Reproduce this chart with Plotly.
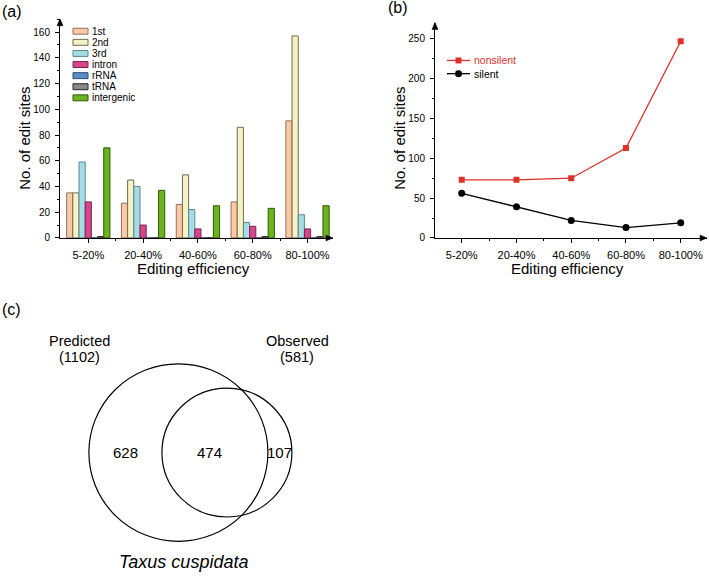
import math
import plotly.graph_objects as go

# ---------------- data ----------------
categories = ["5-20%", "20-40%", "40-60%", "60-80%", "80-100%"]

site_1st = [35, 27, 26, 28, 91]
site_2nd = [35, 45, 49, 86, 157]
site_3rd = [59, 40, 22, 12, 18]
site_intron = [28, 10, 7, 9, 7]
site_rrna = [0, 0, 0, 0, 0]
site_trna = [1, 0, 0, 1, 1]
site_intergenic = [70, 37, 25, 23, 25]

bar_names = ["1st", "2nd", "3rd", "intron", "rRNA", "tRNA", "intergenic"]
bar_values = [site_1st, site_2nd, site_3rd, site_intron, site_rrna, site_trna, site_intergenic]
bar_fill = ["#FDC9A2", "#F7F2C6", "#A6DCE6", "#D8458C", "#5B8CC6", "#8A8A8A", "#6BB41E"]
bar_edge = ["#8F7262", "#6F6B52", "#5C8890", "#7A2450", "#2F4E73", "#222222", "#2E5A0A"]

nonsilent = [73, 73, 75, 113, 247]
silent = [56, 39, 22, 13, 19]

venn_predicted = 1102
venn_observed = 581
venn_overlap = 474
venn_only_pred = venn_predicted - venn_overlap
venn_only_obs = venn_observed - venn_overlap

# ---------------- helpers ----------------
W, H = 709, 577
FONT = "Liberation Sans, Arial, sans-serif"


def px(x):
    return x / W


def py(y):
    return 1 - y / H


fig = go.Figure()

# ---------------- panel (a): grouped bars ----------------
for name, vals, fc, ec in zip(bar_names, bar_values, bar_fill, bar_edge):
    fig.add_trace(go.Bar(
        x=list(range(len(categories))), y=vals, name=name,
        marker=dict(color=fc, line=dict(color=ec, width=1)),
        xaxis="x", yaxis="y", showlegend=False,
    ))

# ---------------- panel (b): lines ----------------
red = "#E0302A"
fig.add_trace(go.Scatter(
    x=list(range(len(categories))), y=nonsilent, mode="lines+markers", name="nonsilent",
    line=dict(color=red, width=1.3), marker=dict(symbol="square", size=6, color=red),
    xaxis="x2", yaxis="y2", showlegend=False,
))
fig.add_trace(go.Scatter(
    x=list(range(len(categories))), y=silent, mode="lines+markers", name="silent",
    line=dict(color="black", width=1.3), marker=dict(symbol="circle", size=7, color="black"),
    xaxis="x2", yaxis="y2", showlegend=False,
))

# ---------------- panel (c): area-proportional Venn ----------------
r1 = math.sqrt(venn_predicted / math.pi)
r2 = math.sqrt(venn_observed / math.pi)


def overlap_area(ra, rb, d):
    if d >= ra + rb:
        return 0.0
    if d <= abs(ra - rb):
        return math.pi * min(ra, rb) ** 2
    a1 = ra * ra * math.acos((d * d + ra * ra - rb * rb) / (2 * d * ra))
    a2 = rb * rb * math.acos((d * d + rb * rb - ra * ra) / (2 * d * rb))
    a3 = 0.5 * math.sqrt((-d + ra + rb) * (d + ra - rb) * (d - ra + rb) * (d + ra + rb))
    return a1 + a2 - a3


lo, hi = abs(r1 - r2) + 1e-9, r1 + r2
for _ in range(100):
    mid = 0.5 * (lo + hi)
    if overlap_area(r1, r2, mid) > venn_overlap:
        lo = mid
    else:
        hi = mid
dist = 0.5 * (lo + hi)

fig.add_shape(type="circle", xref="x3", yref="y3", x0=-r1, x1=r1, y0=-r1, y1=r1,
              line=dict(color="black", width=1.2))
fig.add_shape(type="circle", xref="x3", yref="y3", x0=dist - r2, x1=dist + r2, y0=-r2, y1=r2,
              line=dict(color="black", width=1.2))

vfont = dict(family=FONT, size=15, color="black")
lfont = dict(family=FONT, size=14.5, color="black")
venn_texts = [
    (str(venn_only_pred), (-r1 + dist - r2) / 2, 0, vfont),
    (str(venn_overlap), (dist - r2 + r1) / 2 - 1.2, 0, vfont),
    (str(venn_only_obs), (r1 + dist + r2) / 2, 0, vfont),
    ("Predicted", -1.11 * r1, 1.26 * r1, lfont),
    ("(%d)" % venn_predicted, -1.11 * r1, 1.075 * r1, lfont),
    ("Observed", dist + 1.08 * r2, 1.26 * r1, lfont),
    ("(%d)" % venn_observed, dist + 1.08 * r2, 1.075 * r1, lfont),
]
for t, x, y, f in venn_texts:
    fig.add_annotation(text=t, x=x, y=y, xref="x3", yref="y3", showarrow=False,
                       xanchor="center", yanchor="middle", font=f)
fig.add_annotation(text="<i>Taxus cuspidata</i>", x=1.1, y=-1.235 * r1, xref="x3", yref="y3",
                   showarrow=False, xanchor="center", yanchor="middle",
                   font=dict(family=FONT, size=18, color="black"))

# ---------------- axes ----------------
tickfont_x = dict(family=FONT, size=11, color="black")
tickfont_y = dict(family=FONT, size=10, color="black")

common_x = dict(
    tickmode="array", tickvals=list(range(len(categories))), ticktext=categories,
    ticks="outside", ticklen=4, tickwidth=1, tickcolor="black",
    showline=True, linecolor="black", linewidth=1, showgrid=False, zeroline=False,
    tickfont=tickfont_x, ticklabelstandoff=3,
    minor=dict(tickmode="array", tickvals=[0.5, 1.5, 2.5, 3.5], ticks="outside", ticklen=2,
               tickcolor="black", showgrid=False),
)
common_y = dict(
    ticks="outside", ticklen=4, tickwidth=1, tickcolor="black",
    showline=True, linecolor="black", linewidth=1, showgrid=False, zeroline=False,
    tickfont=tickfont_y, ticklabelstandoff=3,
)

fig.update_layout(
    width=W, height=H,
    margin=dict(l=0, r=0, t=0, b=0),
    paper_bgcolor="white", plot_bgcolor="white",
    font=dict(family=FONT, color="black"),
    barmode="group", bargap=0.21, bargroupgap=0,
    showlegend=False,
    xaxis=dict(domain=[px(60), px(333)], range=[-0.516, 4.465], anchor="y", **common_x),
    yaxis=dict(domain=[py(240), py(19)], range=[0, 170.3], anchor="x", tickmode="linear",
               tick0=0, dtick=20,
               minor=dict(dtick=10, ticks="outside", ticklen=2, tickcolor="black", showgrid=False),
               **common_y),
    xaxis2=dict(domain=[px(435), px(707)], range=[-0.488, 4.48], anchor="y2", **common_x),
    yaxis2=dict(domain=[py(240), py(22.7)], range=[0, 270.6], anchor="x2", tickmode="linear",
                tick0=0, dtick=50,
                minor=dict(dtick=25, ticks="outside", ticklen=2, tickcolor="black", showgrid=False),
                **common_y),
    xaxis3=dict(domain=[0, 0.5], range=[-178.4 / 4.78, (354.5 - 178.4) / 4.78], visible=False,
                anchor="y3"),
    yaxis3=dict(domain=[0, py(320)], range=[-(577 - 456.5) / 4.78, (456.5 - 320) / 4.78],
                visible=False, anchor="x3"),
)

# ---------------- axis arrows (decoration) ----------------
def tri(points):
    return "M " + " L ".join("%f,%f" % (px(a), py(b)) for a, b in points) + " Z"


for tip_x, tip_y, horiz in [(60, 19, False), (333, 240, True), (435, 22.7, False), (707, 240, True)]:
    if horiz:
        pts = [(tip_x, tip_y), (tip_x - 7, tip_y - 3), (tip_x - 7, tip_y + 3)]
    else:
        pts = [(tip_x, tip_y), (tip_x - 3, tip_y + 7), (tip_x + 3, tip_y + 7)]
    fig.add_shape(type="path", xref="paper", yref="paper", path=tri(pts),
                  fillcolor="black", line=dict(color="black", width=0.5))

# ---------------- manual legend (a) ----------------
for i, (name, fc, ec) in enumerate(zip(bar_names, bar_fill, bar_edge)):
    yc = 31.5 + 11.2 * i
    fig.add_shape(type="rect", xref="paper", yref="paper",
                  x0=px(73), x1=px(88), y0=py(yc + 3), y1=py(yc - 3),
                  fillcolor=fc, line=dict(color=ec, width=1))
    fig.add_annotation(text=name, x=px(91), y=py(yc), xref="paper", yref="paper",
                       showarrow=False, xanchor="left", yanchor="middle", borderpad=0,
                       font=dict(family=FONT, size=10, color="black"))

# ---------------- manual legend (b) ----------------
for name, color, symbol, yc in [("nonsilent", red, "square", 61), ("silent", "black", "circle", 74.3)]:
    fig.add_shape(type="line", xref="paper", yref="paper", x0=px(447), x1=px(470),
                  y0=py(yc), y1=py(yc), line=dict(color=color, width=1.3))
    if symbol == "square":
        fig.add_shape(type="rect", xref="paper", yref="paper", x0=px(455.5), x1=px(461.5),
                      y0=py(yc + 3), y1=py(yc - 3), fillcolor=color, line=dict(color=color, width=0))
    else:
        fig.add_shape(type="circle", xref="paper", yref="paper", x0=px(455), x1=px(462),
                      y0=py(yc + 3.5), y1=py(yc - 3.5), fillcolor=color, line=dict(color=color, width=0))
    fig.add_annotation(text=name, x=px(473), y=py(yc), xref="paper", yref="paper",
                       showarrow=False, xanchor="left", yanchor="middle", borderpad=0,
                       font=dict(family=FONT, size=10.5, color=color))

# ---------------- axis titles & panel labels ----------------
tfont = dict(family=FONT, size=15, color="black")
fig.add_annotation(text="No. of edit sites", x=px(25), y=py(140), xref="paper", yref="paper",
                   showarrow=False, textangle=-90, xanchor="center", yanchor="middle", font=tfont)
fig.add_annotation(text="Editing efficiency", x=px(193), y=py(271), xref="paper", yref="paper",
                   showarrow=False, xanchor="center", yanchor="middle", font=tfont)
fig.add_annotation(text="No. of edit sites", x=px(400), y=py(140), xref="paper", yref="paper",
                   showarrow=False, textangle=-90, xanchor="center", yanchor="middle", font=tfont)
fig.add_annotation(text="Editing efficiency", x=px(567), y=py(271), xref="paper", yref="paper",
                   showarrow=False, xanchor="center", yanchor="middle", font=tfont)

pfont = dict(family=FONT, size=16, color="black")
for t, x, y in [("(a)", 0, 12), ("(b)", 386, 8), ("(c)", 0, 312)]:
    fig.add_annotation(text=t, x=px(x), y=py(y), xref="paper", yref="paper", showarrow=False,
                       xanchor="left", yanchor="middle", font=pfont)

fig.write_html(
    "out.html",
    config={"displayModeBar": False},
    post_script="document.body.style.margin='0';document.body.style.overflow='hidden';",
)
